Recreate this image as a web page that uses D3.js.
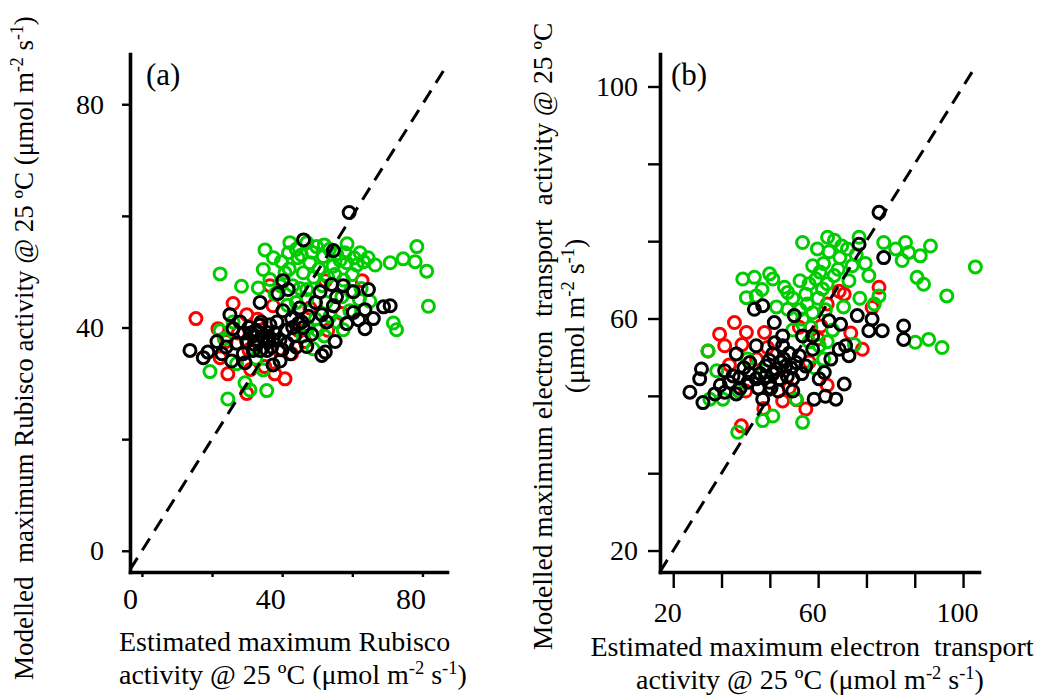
<!DOCTYPE html>
<html>
<head>
<meta charset="utf-8">
<script src="https://cdn.jsdelivr.net/npm/d3@7"></script>
<style>
  body { margin: 0; background: #fff; }
  text { font-family: "Liberation Serif", "Times New Roman", serif; fill: #000; white-space: pre; }
</style>
</head>
<body>
<svg id="chart" width="1045" height="700"></svg>
<script>
// ---- panel (a): Rubisco activity, [estimated, modelled] ----
const aBlack = [
  [59.1,60.6],[46.1,55.7],[54.6,53.8],[40.2,48.4],[38.8,46.1],[41.7,46.8],[54.1,47.7],[57.4,47.5],
  [60.3,46.4],[64.6,46.8],[50.8,46.4],[54.6,43.9],[55.5,45.5],[68.9,43.7],[70.8,43.9],[66.0,41.6],
  [63.6,39.8],[61.8,41.4],[58.4,40.7],[60.3,42.7],[63.6,43.2],[52.7,41.0],[51.3,42.3],[52.3,35.6],
  [51.3,35.0],[55.1,37.5],[47.0,36.6],[48.4,38.8],[44.6,40.7],[42.7,41.6],[42.3,35.3],[45.6,41.0],
  [33.7,44.5],[25.1,42.3],[28.0,41.0],[26.0,39.8],[13.7,35.9],[17.5,34.6],[18.8,35.6],[21.4,37.5],
  [22.8,35.3],[25.6,34.0],[29.4,33.7],[31.7,35.9],[35.7,37.5],[37.4,33.3],[39.4,34.0],[33.7,40.4],
  [35.7,39.1],[31.7,38.5],[29.9,37.5],[39.4,37.8],[41.4,37.2],[37.4,37.8],[27.0,37.2],[28.9,35.3],
  [33.7,35.9],[35.7,35.9],[40.2,43.0],[38.5,41.0],[32.5,39.5],[34.5,38.2],[36.5,40.5],[30.5,40.0],
  [38.0,39.0],[43.5,38.5],[45.0,43.5],[47.5,42.0],[24.0,36.5],[32.0,37.0],[41.0,39.5],[49.5,44.5],
  [31.0,39.0],[33.0,37.5],[36.0,38.0],[34.0,41.0],[29.0,39.0],[37.0,36.5],[40.0,36.0],[43.0,40.0],
  [44.0,36.5],[46.0,40.0]
];
const aRed = [
  [15.4,41.6],[26.0,44.3],[21.7,39.8],[22.3,34.6],[24.5,31.7],[29.9,28.2],[40.8,30.8],[37.9,31.7],
  [42.7,35.3],[62.8,48.4],[52.3,48.4],[36.5,47.5],[29.9,42.3],[37.4,43.9],[47.9,43.5],[27.5,39.0],
  [33.0,41.5],[35.0,33.0],[31.0,32.5],[44.5,39.5],[46.5,37.5],[53.0,39.5],[57.0,42.5],[24.0,37.5],
  [39.0,36.0],[30.5,36.0]
];
const aGreen = [
  [22.3,49.6],[28.4,47.4],[35.1,53.9],[42.2,55.2],[47.0,55.2],[49.8,54.5],[41.8,53.4],[39.8,51.8],
  [44.5,52.5],[47.9,51.6],[51.7,52.7],[57.9,53.4],[62.2,53.4],[58.4,51.6],[54.5,51.0],[61.3,51.2],
  [63.2,51.8],[66.5,51.2],[70.8,51.6],[74.5,52.3],[78.4,54.5],[77.9,51.8],[81.2,50.1],[81.7,43.8],
  [71.7,40.8],[72.6,39.6],[65.0,44.7],[34.6,50.4],[36.5,48.6],[33.2,47.1],[40.8,49.8],[46.0,49.8],
  [47.0,46.8],[47.0,45.0],[53.6,42.0],[57.4,39.6],[19.4,32.1],[24.5,27.2],[29.4,30.1],[30.8,28.8],
  [35.6,28.7],[34.6,32.4],[22.3,39.4],[59.3,43.0],[48.8,36.2],[52.0,54.8],[55.5,53.2],[44.0,54.0],
  [49.0,49.0],[51.5,47.5],[55.0,49.5],[60.0,49.5],[38.0,46.0],[43.0,47.5],[49.5,41.5],[55.5,41.0],
  [57.0,45.5],[62.0,45.0],[44.0,44.5],[27.0,33.5],[32.5,34.5],[26.0,41.0],[23.5,38.0],[41.5,44.0],
  [58.5,55.0],[64.5,52.5],[37.5,52.5],[52.5,44.5],[50.0,39.5],[46.0,38.5],[45.5,53.0],[48.5,53.5],
  [53.5,54.0],[56.5,52.0],[60.5,52.5],[50.5,50.5],[53.0,49.0],[57.5,48.5],[45.0,47.0],[42.0,50.5],
  [39.5,47.5],[62.5,47.0],[59.5,46.5],[47.5,40.0],[52.0,38.5]
];

// ---- panel (b): electron transport activity, [estimated, modelled] ----
const bBlack = [
  [76.8,78.3],[71.3,72.8],[78.1,70.5],[42.4,61.6],[44.7,62.2],[53.4,60.5],[47.9,59.3],[63.0,59.6],
  [66.2,59.0],[70.8,60.5],[74.9,59.9],[77.7,57.9],[74.0,57.9],[83.6,58.7],[83.6,56.4],[67.6,55.3],
  [68.5,53.6],[65.8,54.7],[63.5,53.0],[61.7,50.7],[60.3,49.6],[67.2,48.7],[64.9,46.1],[58.9,46.1],
  [53.0,47.5],[24.6,47.3],[28.2,45.5],[27.3,49.6],[27.8,51.3],[34.2,51.0],[37.4,53.9],[34.2,47.3],
  [37.4,47.0],[38.3,49.8],[40.6,49.0],[42.9,49.6],[44.7,46.1],[47.5,53.9],[50.2,57.0],[55.7,57.0],
  [58.5,57.0],[42.9,55.3],[41.1,52.4],[45.6,51.8],[48.4,51.3],[51.1,51.8],[53.9,52.4],[56.6,51.8],
  [49.3,49.6],[53.0,49.6],[54.8,53.6],[58.5,54.7],[50.2,55.3],[36.5,50.1],[46.6,49.0],[62.0,46.6],
  [31.5,47.0],[39.5,51.5],[44.0,50.5],[47.0,48.0],[52.0,54.0],[50.5,53.0],[55.5,50.5],[48.0,55.8],
  [45.5,50.0],[47.5,50.5],[49.5,52.5],[51.5,50.0],[46.5,52.8],[43.5,48.0],[49.0,47.5],[52.5,51.5],
  [41.0,50.5],[38.5,48.0],[35.5,49.0],[33.0,48.5]
];
const bRed = [
  [36.9,59.3],[32.8,57.3],[34.2,55.3],[29.6,54.4],[40.2,57.6],[45.2,57.6],[65.8,64.7],[67.2,64.2],
  [76.8,65.4],[74.9,61.9],[72.2,54.7],[56.6,44.4],[50.2,45.8],[38.8,41.5],[54.8,58.5],[60.8,58.7],
  [62.5,62.5],[47.5,50.5],[43.0,53.0],[57.5,52.5],[40.0,47.5],[52.0,48.0],[35.5,52.0],[60.0,56.5],
  [69.0,57.5],[46.0,55.0],[54.0,46.0],[45.0,44.5],[62.5,48.5],[39.0,55.5]
];
const bGreen = [
  [55.7,73.1],[59.8,72.0],[62.6,74.0],[64.5,73.5],[68.1,72.0],[71.3,74.0],[78.1,73.1],[81.4,72.0],
  [84.1,73.1],[85.0,71.4],[91.0,72.5],[88.2,70.8],[83.2,70.0],[87.3,67.1],[89.1,65.9],[95.5,63.9],
  [86.8,55.9],[90.5,56.4],[94.2,55.0],[58.5,69.1],[61.5,69.5],[64.4,67.4],[69.4,69.1],[74.0,67.4],
  [73.0,69.5],[68.5,66.5],[59.4,66.8],[61.2,65.1],[56.6,64.2],[60.0,63.5],[39.2,66.8],[42.4,67.1],
  [46.6,67.7],[47.5,66.8],[50.7,65.4],[51.6,64.5],[40.2,63.6],[42.9,63.9],[51.6,61.6],[55.0,61.5],
  [58.5,61.0],[55.7,59.9],[29.6,54.4],[30.1,46.1],[33.7,46.1],[37.8,40.4],[44.7,42.4],[47.5,43.2],
  [55.7,42.1],[53.9,46.1],[60.3,55.3],[62.5,56.0],[61.5,53.0],[70.0,55.5],[76.8,63.9],[75.5,62.5],
  [103.4,68.9],[66.0,70.5],[63.0,71.5],[57.0,62.5],[53.0,58.0],[57.5,56.0],[45.0,51.0],[38.0,47.5],
  [40.5,53.0],[59.0,51.5],[64.0,58.0],[67.0,62.0],[71.5,63.5],[32.0,51.0],[60.5,68.0],[62.5,66.0],
  [65.5,68.5],[70.5,71.0],[66.5,72.5],[57.5,66.0],[55.0,66.5],[53.0,63.5],[62.0,61.5],[44.5,65.0],
  [48.5,62.0],[58.0,58.5]
];

// ticks
const aTicks = [0, 20, 40, 60, 80];
const aTickLabels = [0, 40, 80];
const bTicks = [20, 100 / 3, 140 / 3, 60, 220 / 3, 260 / 3, 100];
const bTickLabels = [20, 60, 100];

const colors = { red: '#ff0000', green: '#00cd00', black: '#000000' };

const svg = d3.select('#chart');

// text with superscript pieces: parts = [[string, isSup], ...]
function writeParts(text, parts) {
  let up = false;
  parts.forEach(([s, sup]) => {
    const t = text.append('tspan').text(s);
    if (sup && !up) { t.attr('dy', -10).attr('font-size', '0.66em'); up = true; }
    else if (sup) { t.attr('font-size', '0.66em'); }
    else if (up) { t.attr('dy', 10); up = false; }
  });
}

const unitParts = [['(μmol m'], ['-2', true], [' s'], ['-1', true], [')']];

function drawPanel(o) {
  const x = d3.scaleLinear().domain(o.xDomain).range([o.left, o.right]);
  const y = d3.scaleLinear().domain(o.yDomain).range([o.bottom, o.top]);
  const g = svg.append('g');

  // points
  [['red', o.red], ['green', o.green], ['black', o.black]].forEach(([c, data]) => {
    g.append('g').selectAll('circle')
      .data(data)
      .enter()
      .append('circle')
      .attr('cx', d => x(d[0]))
      .attr('cy', d => y(d[1]))
      .attr('r', 6)
      .attr('fill', 'none')
      .attr('stroke', colors[c])
      .attr('stroke-width', 3);
  });

  // 1:1 line
  g.append('line')
    .attr('x1', x(o.line[0])).attr('y1', y(o.line[0]))
    .attr('x2', x(o.line[1])).attr('y2', y(o.line[1]))
    .attr('stroke', '#000')
    .attr('stroke-width', 3)
    .attr('stroke-dasharray', '14,9');

  const isLabel = labels => d => labels.some(l => Math.abs(l - d) < 0.01) ? Math.round(d) : '';

  const yAxis = g.append('g')
    .attr('transform', `translate(${o.left},0)`)
    .call(d3.axisLeft(y).tickValues(o.ticks).tickSize(o.yTickLen).tickSizeOuter(0)
      .tickPadding(o.yPad).tickFormat(isLabel(o.tickLabels)));

  const xAxis = g.append('g')
    .attr('transform', `translate(0,${o.bottom})`)
    .call(d3.axisBottom(x).tickValues(o.ticks).tickSize(o.xTickLen).tickSizeOuter(0)
      .tickPadding(o.xPad).tickFormat(isLabel(o.tickLabels)));

  [xAxis, yAxis].forEach(a => {
    a.select('.domain').attr('stroke-width', 3.6).attr('stroke-linecap', 'square');
    a.selectAll('.tick line').attr('stroke-width', 2.4);
    a.selectAll('.tick text').attr('font-family', '"Liberation Serif", serif').attr('font-size', 28).attr('fill', '#000');
  });
  xAxis.selectAll('.tick text').attr('dx', o.xLabelDx).attr('font-size', o.xLabelSize);

  // panel label
  g.append('text')
    .attr('x', o.tagX).attr('y', 85)
    .attr('font-size', 31)
    .text(o.tag);

  return { x, y };
}

drawPanel({
  xDomain: [-3.4, 87], yDomain: [-3.8, 89],
  left: 130, right: 447, top: 54, bottom: 572,
  red: aRed, green: aGreen, black: aBlack,
  line: [-3.4, 86], ticks: aTicks, tickLabels: aTickLabels,
  yTickLen: 8, yPad: 18, xTickLen: 5, xPad: 11, xLabelDx: -12, xLabelSize: 30,
  tag: '(a)', tagX: 146
});

drawPanel({
  xDomain: [16.35, 104.4], yDomain: [16.3, 105.6],
  left: 660, right: 979, top: 54, bottom: 572,
  red: bRed, green: bGreen, black: bBlack,
  line: [16.35, 103], ticks: bTicks, tickLabels: bTickLabels,
  yTickLen: 12, yPad: 10, xTickLen: 16, xPad: 14, xLabelDx: -6, xLabelSize: 28,
  tag: '(b)', tagX: 671
});

// axis titles, panel (a)
writeParts(svg.append('text').attr('x', 119).attr('y', 651).attr('font-size', 28),
  [['Estimated maximum Rubisco']]);
writeParts(svg.append('text').attr('x', 119).attr('y', 684).attr('font-size', 28),
  [['activity @ 25 ºC ']].concat(unitParts));
writeParts(svg.append('text').attr('transform', 'translate(33,680) rotate(-90)').attr('font-size', 27),
  [['Modelled  maximum Rubisco activity @ 25 ºC ']].concat(unitParts));

// axis titles, panel (b)
writeParts(svg.append('text').attr('x', 812).attr('y', 656).attr('font-size', 28).attr('text-anchor', 'middle'),
  [['Estimated maximum electron  transport']]);
writeParts(svg.append('text').attr('x', 810).attr('y', 689).attr('font-size', 28).attr('text-anchor', 'middle'),
  [['activity @ 25 ºC ']].concat(unitParts));
writeParts(svg.append('text').attr('transform', 'translate(552,650) rotate(-90)').attr('font-size', 27.5),
  [['Modelled maximum electron  transport  activity @ 25 ºC']]);
writeParts(svg.append('text').attr('transform', 'translate(584,316) rotate(-90)').attr('font-size', 28).attr('text-anchor', 'middle'),
  unitParts);
</script>
</body>
</html>
